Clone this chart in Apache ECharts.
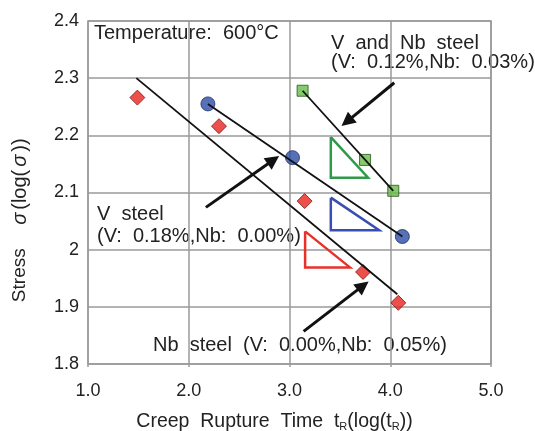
<!DOCTYPE html>
<html>
<head>
<meta charset="utf-8">
<script src="https://cdn.jsdelivr.net/npm/echarts@6/dist/echarts.min.js"></script>
<style>
  html, body { margin: 0; padding: 0; background: #fff; }
  #main { width: 535px; height: 431px; }
</style>
</head>
<body>
<div id="main"></div>
<script>
// data: creep rupture time vs stress, 600°C
var nbSteel = [[1.49, 2.266], [2.30, 2.216], [3.15, 2.085], [3.73, 1.961], [4.08, 1.907]];
var vSteel = [[2.19, 2.255], [3.03, 2.161], [4.12, 2.023]];
var vnbSteel = [[3.13, 2.278], [3.75, 2.157], [4.03, 2.103]];

// fitted lines
var nbFit = [[1.48, 2.300], [4.07, 1.922]];
var vFit = [[2.19, 2.255], [4.12, 2.023]];
var vnbFit = [[3.13, 2.278], [4.03, 2.103]];

// slope triangles
var triGreen = [[3.41, 2.197], [3.41, 2.126], [3.78, 2.126], [3.41, 2.197]];
var triBlue = [[3.41, 2.091], [3.41, 2.034], [3.89, 2.034], [3.41, 2.091]];
var triRed = [[3.155, 2.032], [3.155, 1.969], [3.60, 1.969], [3.155, 2.032]];

// arrows (from -> to)
var arrows = [
  [[4.04, 2.292], [3.57, 2.224]],
  [[2.17, 2.074], [2.84, 2.157]],
  [[3.14, 1.857], [3.73, 1.937]]
];

var FONT = 'Liberation Sans, Arial, sans-serif';
var gridColor = '#9a9a9a';

var myChart = echarts.init(document.getElementById('main'));

function triSeries(data, color) {
  return {
    type: 'line', data: data, showSymbol: false, silent: true,
    lineStyle: { color: color, width: 2.5, join: 'miter' }
  };
}
function fitSeries(data) {
  return {
    type: 'line', data: data, showSymbol: false, silent: true,
    lineStyle: { color: '#111', width: 1.8 }
  };
}

var option = {
  animation: false,
  backgroundColor: '#fff',
  grid: {
    left: 88, right: 44, top: 21, bottom: 67,
    containLabel: false, outerBoundsMode: 'none',
    show: true, borderColor: gridColor, borderWidth: 1.5
  },
  xAxis: {
    type: 'value', min: 1, max: 5, interval: 1,
    axisLine: { show: false },
    axisTick: { show: true, length: 3, lineStyle: { color: gridColor, width: 1.5 } },
    splitLine: { lineStyle: { color: gridColor, width: 1.5 } },
    axisLabel: {
      margin: 18, color: '#222', fontFamily: FONT, fontSize: 18,
      formatter: function (v) { return v.toFixed(1); }
    },
    name: '{n|Creep  Rupture  Time  t}{s|R}{n|(log(t}{s|R}{n|))}',
    nameLocation: 'middle', nameGap: 48,
    nameTextStyle: {
      padding: [0, 30, 0, 0],
      rich: {
        n: { fontFamily: FONT, fontSize: 19.5, color: '#222' },
        s: { fontFamily: FONT, fontSize: 11, color: '#222', padding: [9, 0, 0, 0] }
      }
    }
  },
  yAxis: {
    type: 'value', min: 1.8, max: 2.4, interval: 0.1,
    axisLine: { show: false },
    axisTick: { show: false },
    splitLine: { lineStyle: { color: gridColor, width: 1.5 } },
    axisLabel: {
      margin: 9, color: '#222', fontFamily: FONT, fontSize: 18,
      formatter: function (v) {
        var r = Math.round(v * 10) / 10;
        return r === 2 ? '2' : r.toFixed(1);
      }
    },
    name: '{n|Stress}{i|σ}{p|(log(}{i|σ}{p|))}',
    nameLocation: 'middle', nameGap: 58, nameRotate: 90,
    nameTextStyle: {
      padding: [0, 54, 0, 0],
      rich: {
        n: { fontFamily: FONT, fontSize: 19, color: '#222', padding: [0, 22, 0, 0] },
        p: { fontFamily: FONT, fontSize: 20, color: '#222', padding: [0, 1.5, 0, 1.5] },
        i: { fontFamily: FONT, fontSize: 20, color: '#222', fontStyle: 'italic', padding: [0, 1.5, 0, 1.5] }
      }
    }
  },
  graphic: [
    { type: 'text', left: 94, top: 23, style: { text: 'Temperature:  600°C', font: '20px ' + FONT, fill: '#222' } },
    { type: 'text', left: 331, top: 33, style: { text: 'V  and  Nb  steel\n(V:  0.12%,Nb:  0.03%)', font: '20px ' + FONT, fill: '#222', lineHeight: 19 } },
    { type: 'text', left: 97, top: 203, style: { text: 'V  steel\n(V:  0.18%,Nb:  0.00%)', font: '20px ' + FONT, fill: '#222', lineHeight: 22 } },
    { type: 'text', left: 153, top: 335, style: { text: 'Nb  steel  (V:  0.00%,Nb:  0.05%)', font: '20px ' + FONT, fill: '#222' } }
  ],
  series: [
    fitSeries(nbFit),
    fitSeries(vFit),
    fitSeries(vnbFit),
    triSeries(triGreen, '#2f9a4a'),
    triSeries(triBlue, '#3a4db3'),
    triSeries(triRed, '#e8312a'),
    {
      type: 'line', data: [], silent: true,
      markLine: {
        silent: true, animation: false,
        symbol: ['none', 'triangle'], symbolSize: 14,
        label: { show: false },
        itemStyle: { color: '#111' },
        lineStyle: { color: '#111', width: 3, type: 'solid' },
        data: arrows.map(function (a) {
          return [{ coord: a[0] }, { coord: a[1] }];
        })
      }
    },
    {
      type: 'scatter', data: nbSteel, symbol: 'diamond', symbolSize: 15,
      itemStyle: { color: '#e8231f', borderColor: '#7a1c14', borderWidth: 1 }
    },
    {
      type: 'scatter', data: vSteel, symbol: 'circle', symbolSize: 14,
      itemStyle: { color: '#2d4ea8', borderColor: '#1c2c6a', borderWidth: 1 }
    },
    {
      type: 'scatter', data: vnbSteel, symbol: 'rect', symbolSize: 11,
      itemStyle: { color: '#67bd48', borderColor: '#2b531c', borderWidth: 1 }
    }
  ]
};
myChart.setOption(option);
</script>
</body>
</html>
